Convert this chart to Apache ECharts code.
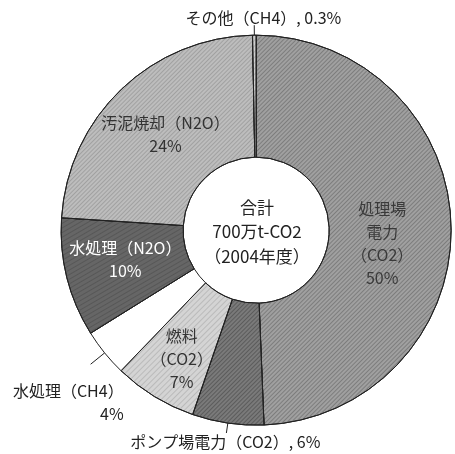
<!DOCTYPE html>
<html>
<head>
<meta charset="utf-8">
<script src="https://cdn.jsdelivr.net/npm/echarts@6/dist/echarts.min.js"></script>
<style>html,body{margin:0;padding:0;background:#fff;}#c{width:455px;height:454px;}</style>
</head>
<body>
<div id="c"></div>
<script>
const categories = ['処理場電力（CO2）', 'ポンプ場電力（CO2）', '燃料（CO2）', '水処理（CH4）', '水処理（N2O）', '汚泥焼却（N2O）', 'その他（CH4）'];
const values = [50, 6, 7, 4, 10, 24, 0.3];
const labelTexts = [
  '処理場\n電力\n（CO2）\n50%',
  'ポンプ場電力（CO2）, 6%',
  '燃料\n（CO2）\n7%',
  '水処理（CH4）\n4%',
  '水処理（N2O）\n10%',
  '汚泥焼却（N2O）\n24%',
  'その他（CH4）, 0.3%'
];
const centerText = '合計\n700万t-CO2\n（2004年度）';

const FONT = '"Noto Sans CJK JP", "Noto Sans", sans-serif';
const colors = ['#a0a0a0', '#7a7a7a', '#d4d4d4', '#ffffff', '#666666', '#bdbdbd', '#cfcfcf'];
const decals = [
  {symbol:'rect', symbolSize:1, dashArrayX:[1,0], dashArrayY:[1,2], rotation:-Math.PI/4, color:'rgba(0,0,0,0.22)'},
  {symbol:'rect', symbolSize:1, dashArrayX:[1,0], dashArrayY:[1,2], rotation:-Math.PI/4, color:'rgba(0,0,0,0.25)'},
  {symbol:'rect', symbolSize:1, dashArrayX:[1,0], dashArrayY:[1,3], rotation:-Math.PI/4, color:'rgba(0,0,0,0.12)'},
  null,
  {symbol:'rect', symbolSize:1, dashArrayX:[1,0], dashArrayY:[1,3], rotation:-Math.PI/6, color:'rgba(0,0,0,0.15)'},
  {symbol:'rect', symbolSize:1, dashArrayX:[1,0], dashArrayY:[1,2], rotation:-Math.PI/4, color:'rgba(0,0,0,0.15)'},
  {symbol:'rect', symbolSize:1, dashArrayX:[1,0], dashArrayY:[1,3], rotation:-Math.PI/4, color:'rgba(0,0,0,0.12)'}
];
// label styling per slice
const labelCfg = [
  {position:'inside', offset:[-11, 16], color:'#3a3a3a'},
  {position:'outside', offset:[99, 9], color:'#222', len:10},
  {position:'inside', offset:[-3, 12], color:'#333'},
  {position:'outside', offset:[38, 38], color:'#222', len:18},
  {position:'inside', offset:[2, -4], color:'#ffffff'},
  {position:'inside', offset:[4, 3], color:'#333'},
  {position:'outside', offset:[92, -7], color:'#222', len:10}
];

const data = values.map((v, i) => {
  const cfg = labelCfg[i];
  const item = {
    name: categories[i],
    value: v,
    itemStyle: {color: colors[i]},
    label: {
      show: true,
      position: cfg.position,
      formatter: labelTexts[i],
      color: cfg.color,
      offset: cfg.offset,
      fontSize: 16,
      lineHeight: 23,
      fontFamily: FONT
    },
    labelLine: {show: cfg.position === 'outside', length: cfg.len || 10, length2: 0, lineStyle:{color:'#222', width:1}}
  };
  if (decals[i]) item.itemStyle.decal = decals[i];
  return item;
});

const chart = echarts.init(document.getElementById('c'), null, {renderer:'canvas'});
chart.setOption({
  backgroundColor: '#fff',
  animation: false,
  series: [{
    type: 'pie',
    center: ['56.3%', '50.7%'],
    radius: [73, 195],
    startAngle: 90,
    clockwise: true,
    avoidLabelOverlap: false,
    itemStyle: {borderColor: '#222', borderWidth: 1},
    emphasis: {disabled: true},
    data: data
  }],
  graphic: [{
    type: 'text',
    x: 257, y: 195,
    style: {
      text: centerText, align: 'center', verticalAlign: 'top',
      fontSize: 17, lineHeight: 24.5, fontFamily: FONT, fill: '#222'
    }
  }]
});
</script>
</body>
</html>
